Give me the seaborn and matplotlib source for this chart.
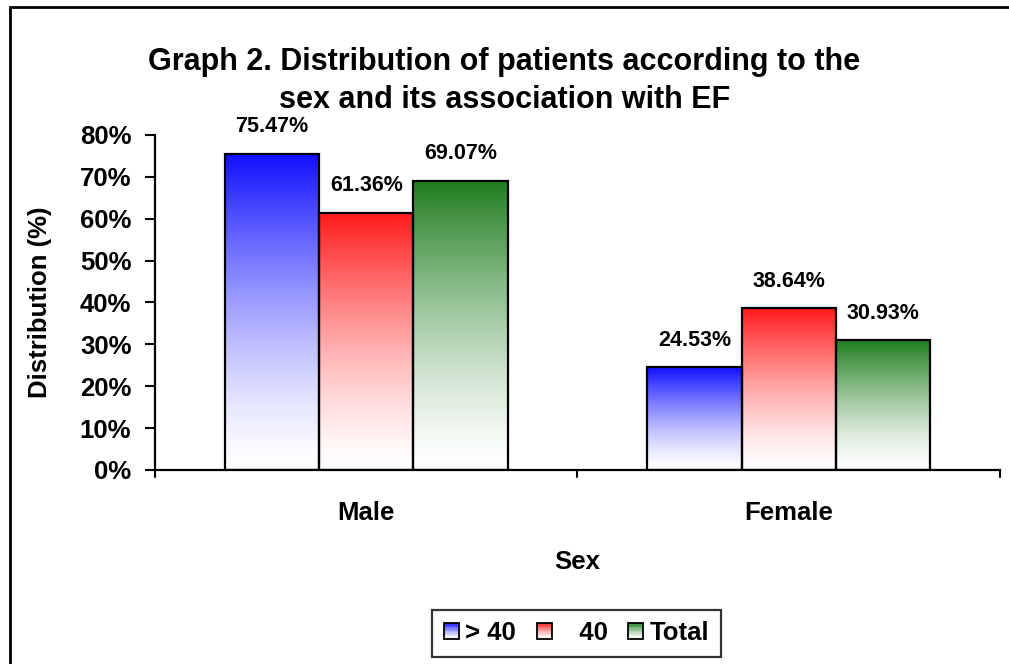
import numpy as np
import pandas as pd
import matplotlib
matplotlib.use("Agg")
import matplotlib.pyplot as plt
import seaborn as sns
from matplotlib.patches import Rectangle
from matplotlib.colors import to_rgb
from matplotlib.legend_handler import HandlerBase

# ---- data ----
categories = ["Male", "Female"]
groups = ["> 40", "   40", "Total"]
gt40_values = [75.47, 24.53]
le40_values = [61.36, 38.64]
total_values = [69.07, 30.93]
group_colors = ["#1010ff", "#ff1a1a", "#1e7d1e"]
yticks = [0, 10, 20, 30, 40, 50, 60, 70, 80]
ytick_labels = [f"{v}%" for v in yticks]

rows = []
for g, vals in zip(groups, [gt40_values, le40_values, total_values]):
    for c, v in zip(categories, vals):
        rows.append({"Sex": c, "Group": g, "Value": v})
df = pd.DataFrame(rows)

sns.set_theme(style="white")
plt.rcParams["font.family"] = ["Liberation Sans", "DejaVu Sans"]
plt.rcParams["font.weight"] = "bold"
plt.rcParams["text.color"] = "black"
plt.rcParams["axes.labelcolor"] = "black"
plt.rcParams["xtick.color"] = "black"
plt.rcParams["ytick.color"] = "black"

fig = plt.figure(figsize=(10.09, 6.64), dpi=100)
ax = fig.add_axes([0.1536, 0.2922, 0.8374, 0.5045])

palette = dict(zip(groups, group_colors))
sns.barplot(data=df, x="Sex", y="Value", hue="Group", order=categories,
            hue_order=groups, palette=palette, width=0.67, gap=0,
            edgecolor="black", linewidth=1.6, ax=ax, legend=False)


def gradient_array(color, n=256):
    c = np.array(to_rgb(color))
    t = np.linspace(0, 1, n)[:, None]  # 0 bottom -> 1 top
    w = t ** 1.4
    arr = (1 - w) * np.ones(3) + w * c
    return arr[:, None, :]


for i, container in enumerate(ax.containers):
    col = group_colors[i]
    for patch, val in zip(container.patches, container.datavalues):
        x0, y0 = patch.get_x(), patch.get_y()
        w, h = patch.get_width(), patch.get_height()
        img = ax.imshow(gradient_array(col), extent=[x0, x0 + w, y0, y0 + h],
                        origin="lower", aspect="auto", zorder=1.5,
                        interpolation="bilinear")
        img.set_clip_path(patch)
        patch.set_facecolor("none")
        patch.set_zorder(2)
        ax.annotate(f"{val:.2f}%", (x0 + w / 2, y0 + h), xytext=(0, 12),
                    textcoords="offset points", ha="center", va="bottom",
                    fontsize=15.5, fontweight="bold", color="black")

ax.set_xlim(-0.5, 1.5)
ax.set_ylim(0, 80)
ax.set_yticks(yticks)
ax.set_yticklabels(ytick_labels, fontsize=18.5, fontweight="bold")
ax.set_xticks([0, 1])
ax.set_xticklabels(categories, fontsize=18.5, fontweight="bold")
ax.tick_params(axis="x", length=0, pad=22)
ax.tick_params(axis="y", direction="out", length=7, width=1.5, color="black",
               left=True, pad=10)
for xb in [-0.5, 0.5, 1.5]:
    ax.plot([xb, xb], [0, -0.02], transform=ax.get_xaxis_transform(),
            color="black", lw=1.5, clip_on=False)
for s in ["top", "right"]:
    ax.spines[s].set_visible(False)
for s in ["left", "bottom"]:
    ax.spines[s].set_color("black")
    ax.spines[s].set_linewidth(1.6)
ax.grid(False)
ax.set_xlabel("Sex", fontsize=18.5, fontweight="bold", labelpad=18)
ax.set_ylabel("Distribution (%)", fontsize=18.5, fontweight="bold", labelpad=20)

fig.text(0.5, 0.878, "Graph 2. Distribution of patients according to the\nsex and its association with EF",
         ha="center", va="center", fontsize=22, fontweight="bold", linespacing=1.32)


class GradHandler(HandlerBase):
    def __init__(self, color):
        super().__init__()
        self.color = color

    def create_artists(self, legend, orig_handle, xdescent, ydescent, width,
                       height, fontsize, trans):
        arts = []
        n = 12
        c = np.array(to_rgb(self.color))
        for k in range(n):
            t = (k + 0.5) / n
            w = t ** 1.4
            fc = (1 - w) * np.ones(3) + w * c
            arts.append(Rectangle((-xdescent, -ydescent + k * height / n), width,
                                  height / n, facecolor=fc, edgecolor="none",
                                  transform=trans))
        arts.append(Rectangle((-xdescent, -ydescent), width, height,
                              facecolor="none", edgecolor="black", lw=1.3,
                              transform=trans))
        return arts


handles = [Rectangle((0, 0), 1, 1) for _ in groups]
leg = fig.legend(handles, groups, loc="center", bbox_to_anchor=(0.5715, 0.0465),
                 ncol=3, frameon=True, fancybox=False, edgecolor="black",
                 handler_map={h: GradHandler(c) for h, c in zip(handles, group_colors)},
                 prop={"size": 18.5, "weight": "bold"}, handlelength=0.58,
                 handleheight=0.58, handletextpad=0.25, columnspacing=0.8,
                 borderpad=0.45, borderaxespad=0)
leg.get_frame().set_linewidth(1.6)

fig.patches.append(Rectangle((0.01, -0.02), 1.0, 1.01, transform=fig.transFigure,
                             fill=False, edgecolor="black", lw=2.0))

fig.savefig("out.png", dpi=100)
